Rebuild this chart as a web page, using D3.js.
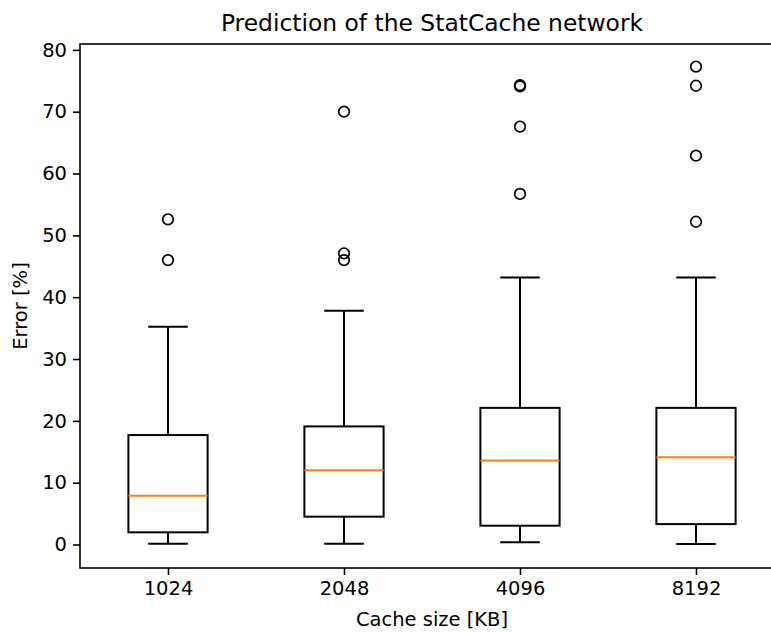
<!DOCTYPE html>
<html>
<head>
<meta charset="utf-8">
<script src="https://cdn.jsdelivr.net/npm/d3@7"></script>
<style>
  html, body { margin: 0; padding: 0; background: #fff; }
  svg { display: block; font-family: "DejaVu Sans", sans-serif; }
</style>
</head>
<body>
<svg id="chart" width="771" height="633"></svg>
<script>
// ---- data ----
const categories = ["1024", "2048", "4096", "8192"];
const whiskerLow = [0.13, 0.13, 0.35, 0.08];
const q1Values = [1.97, 4.5, 3.04, 3.3];
const medians = [7.9, 12.0, 13.6, 14.1];
const q3Values = [17.7, 19.1, 22.1, 22.1];
const whiskerHigh = [35.2, 37.8, 43.2, 43.2];
const fliers = [
  [46.0, 52.6],
  [46.0, 47.1, 70.0],
  [56.7, 67.6, 74.1, 74.3],
  [52.2, 62.9, 74.2, 77.3]
];
const yTicks = [0, 10, 20, 30, 40, 50, 60, 70, 80];
const titleText = "Prediction of the StatCache network";
const xLabel = "Cache size [KB]";
const yLabel = "Error [%]";

// ---- layout ----
const svg = d3.select("#chart");
const mLeft = 80, mRight = 784, mTop = 44, mBottom = 568;

const x = d3.scaleLinear().domain([0.5, categories.length + 0.5]).range([mLeft, mRight]);
const y = d3.scaleLinear().domain([-3.8, 80.95]).range([mBottom, mTop]);
const boxW = 0.45, capW = 0.225;

svg.append("defs").append("clipPath").attr("id", "clip")
  .append("rect").attr("x", mLeft).attr("y", mTop).attr("width", mRight - mLeft).attr("height", mBottom - mTop);

const plot = svg.append("g").attr("clip-path", "url(#clip)");

const data = categories.map((c, i) => ({
  pos: i + 1, lo: whiskerLow[i], q1: q1Values[i], med: medians[i],
  q3: q3Values[i], hi: whiskerHigh[i], fl: fliers[i]
}));

const lw = 2;
const g = plot.selectAll("g.box").data(data).join("g").attr("class", "box");

g.append("line").attr("x1", d => x(d.pos)).attr("x2", d => x(d.pos))
  .attr("y1", d => y(d.q1)).attr("y2", d => y(d.lo)).attr("stroke", "#000").attr("stroke-width", lw);
g.append("line").attr("x1", d => x(d.pos)).attr("x2", d => x(d.pos))
  .attr("y1", d => y(d.q3)).attr("y2", d => y(d.hi)).attr("stroke", "#000").attr("stroke-width", lw);
g.append("line").attr("x1", d => x(d.pos - capW / 2)).attr("x2", d => x(d.pos + capW / 2))
  .attr("y1", d => y(d.lo)).attr("y2", d => y(d.lo)).attr("stroke", "#000").attr("stroke-width", lw);
g.append("line").attr("x1", d => x(d.pos - capW / 2)).attr("x2", d => x(d.pos + capW / 2))
  .attr("y1", d => y(d.hi)).attr("y2", d => y(d.hi)).attr("stroke", "#000").attr("stroke-width", lw);
g.append("rect").attr("x", d => x(d.pos - boxW / 2)).attr("width", d => x(d.pos + boxW / 2) - x(d.pos - boxW / 2))
  .attr("y", d => y(d.q3)).attr("height", d => y(d.q1) - y(d.q3))
  .attr("fill", "none").attr("stroke", "#000").attr("stroke-width", lw);
g.append("line").attr("x1", d => x(d.pos - boxW / 2)).attr("x2", d => x(d.pos + boxW / 2))
  .attr("y1", d => y(d.med)).attr("y2", d => y(d.med)).attr("stroke", "#ff7f0e").attr("stroke-width", lw);
g.selectAll("circle").data(d => d.fl.map(v => ({ pos: d.pos, v }))).join("circle")
  .attr("cx", d => x(d.pos)).attr("cy", d => y(d.v)).attr("r", 5.3)
  .attr("fill", "none").attr("stroke", "#000").attr("stroke-width", 1.7);

const fontSize = 19.5;
const yAxis = svg.append("g").attr("transform", `translate(${mLeft},0)`)
  .call(d3.axisLeft(y).tickValues(yTicks).tickSize(7).tickPadding(6).tickFormat(d3.format("d")));
const xAxis = svg.append("g").attr("transform", `translate(0,${mBottom})`)
  .call(d3.axisBottom(x).tickValues(data.map(d => d.pos)).tickSize(7).tickPadding(6)
    .tickFormat((d, i) => categories[i]));
[xAxis, yAxis].forEach(a => {
  a.select(".domain").remove();
  a.selectAll(".tick line").attr("stroke", "#000").attr("stroke-width", 1.6);
  a.selectAll(".tick text").attr("fill", "#000").style("font-size", fontSize + "px")
    .style("font-family", "'DejaVu Sans', sans-serif");
});

svg.append("rect").attr("x", mLeft).attr("y", mTop).attr("width", mRight - mLeft).attr("height", mBottom - mTop)
  .attr("fill", "none").attr("stroke", "#000").attr("stroke-width", 1.6);

svg.append("text").attr("x", (mLeft + mRight) / 2).attr("y", 31).attr("text-anchor", "middle")
  .style("font-size", "23.4px").attr("fill", "#000").text(titleText);
svg.append("text").attr("x", (mLeft + mRight) / 2).attr("y", 626).attr("text-anchor", "middle")
  .style("font-size", fontSize + "px").attr("fill", "#000").text(xLabel);
svg.append("text").attr("transform", `translate(27,${(mTop + mBottom) / 2}) rotate(-90)`)
  .attr("text-anchor", "middle").style("font-size", fontSize + "px").attr("fill", "#000").text(yLabel);
</script>
</body>
</html>
